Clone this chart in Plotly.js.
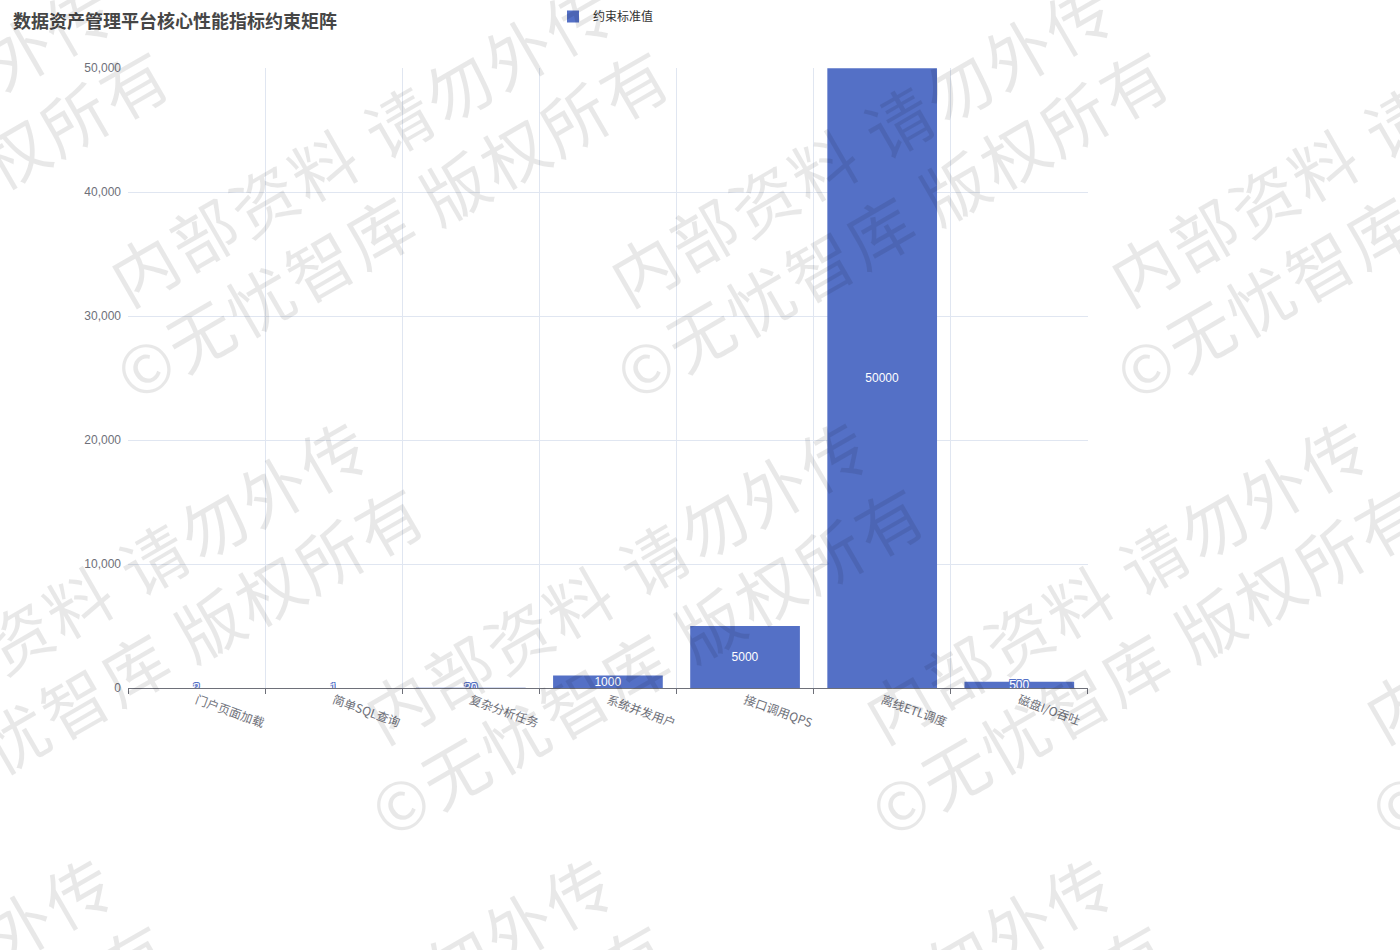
<!DOCTYPE html>
<html>
<head>
<meta charset="utf-8">
<script src="https://cdn.plot.ly/plotly-3.0.1.min.js"></script>
<style>
  html, body { margin: 0; padding: 0; background: #ffffff; }
  #wrap { position: relative; width: 1400px; height: 950px; overflow: hidden; }
  #myChart { position: absolute; left: 0; top: 0; width: 1400px; height: 950px; }
  #mark { position: absolute; left: 0; top: 0; width: 1400px; height: 950px; pointer-events: none; overflow: hidden; z-index: 10; }
  .wm { position: absolute; white-space: nowrap; font-family: "Noto Sans CJK SC", sans-serif; color: rgba(0,0,0,0.09);
        transform-origin: 0 50%; transform: rotate(-30deg); letter-spacing: 3px; }
</style>
</head>
<body>
<div id="wrap">
  <div id="myChart"></div>
  <div id="mark"></div>
</div>
<script>
const categories = ['门户页面加载', '简单SQL查询', '复杂分析任务', '系统并发用户', '接口调用QPS', '离线ETL调度', '磁盘I/O吞吐'];
const limitValues = [2, 1, 30, 1000, 5000, 50000, 500];
const seriesName = '约束标准值';
const chartTitle = '数据资产管理平台核心性能指标约束矩阵';
const markLines = ['内部资料 请勿外传', '©无忧智库 版权所有'];

const BLUE = '#5470c6';

const trace1 = {
    x: categories,
    y: limitValues,
    type: 'bar',
    name: seriesName,
    marker: { color: BLUE },
    text: limitValues.map(String),
    textposition: 'inside',
    insidetextanchor: 'middle',
    constraintext: 'none',
    textangle: 0,
    textfont: {
        family: 'Liberation Sans, Arial, sans-serif',
        size: 12,
        color: '#ffffff',
        shadow: '1px 1px 0 ' + BLUE + ', -1px -1px 0 ' + BLUE + ', 1px -1px 0 ' + BLUE + ', -1px 1px 0 ' + BLUE
    },
    hoverinfo: 'x+y'
};

const layout = {
    width: 1400,
    height: 950,
    title: {
        text: chartTitle,
        font: { family: 'Noto Sans CJK SC, sans-serif', size: 18, color: '#464646', weight: 'bold' },
        xref: 'container', yref: 'container',
        x: 13 / 1400, xanchor: 'left',
        y: 1 - 22 / 950, yanchor: 'middle'
    },
    font: { family: 'Noto Sans CJK SC, Liberation Sans, sans-serif', size: 12, color: '#6e7079' },
    xaxis: {
        type: 'category',
        tickson: 'boundaries',
        ticks: 'outside',
        ticklen: 5,
        tickcolor: '#6e7079',
        showline: true,
        linecolor: '#6e7079',
        linewidth: 1,
        showgrid: true,
        gridcolor: '#e0e6f1',
        tickangle: 20,
        tickfont: { size: 12, color: '#6e7079' },
        range: [-0.5, 6.501],
        fixedrange: true
    },
    yaxis: {
        range: [0, 50020],
        dtick: 10000,
        tickformat: ',d',
        showgrid: true,
        gridcolor: '#e0e6f1',
        zeroline: false,
        showline: false,
        ticks: '',
        ticklabelstandoff: 6,
        tickfont: { family: 'Liberation Sans, Arial, sans-serif', size: 12, color: '#6e7079' },
        fixedrange: true
    },
    bargap: 0.2,
    showlegend: true,
    legend: {
        orientation: 'h',
        xref: 'container', yref: 'container',
        x: 553 / 1400, xanchor: 'left',
        y: 1 - 2 / 950, yanchor: 'top',
        font: { size: 12, color: '#333333' },
        bgcolor: 'rgba(0,0,0,0)'
    },
    paper_bgcolor: '#ffffff',
    plot_bgcolor: '#ffffff',
    margin: { t: 68, b: 262, l: 128, r: 312, autoexpand: false },
    hovermode: 'closest'
};

Plotly.newPlot('myChart', [trace1], layout, { displayModeBar: false, staticPlot: true });

// watermark tiles, drawn over the chart like the reference
(function () {
    const mark = document.getElementById('mark');
    const F = 66;
    const c = Math.cos(Math.PI / 6), s = Math.sin(Math.PI / 6);
    function put(txt, sx, sy) {
        const d = document.createElement('div');
        d.className = 'wm';
        d.textContent = txt;
        d.style.fontSize = F + 'px';
        d.style.lineHeight = F + 'px';
        d.style.height = F + 'px';
        d.style.left = sx + 'px';
        d.style.top = (sy - F / 2) + 'px';
        mark.appendChild(d);
    }
    for (let r = -1; r <= 3; r++) {
        const even = Math.abs(r % 2) === 0;
        const cy = 266 + r * 437;
        const x0 = even ? 143 : 398;
        for (let k = -2; k <= 3; k++) {
            const cx = x0 + k * 500;
            const sx = cx - c * F / 2, sy = cy + s * F / 2;
            put(markLines[0], sx, sy);
            put(markLines[1], sx + s * 86 - c * 43, sy + c * 86 + s * 43);
        }
    }
})();
</script>
</body>
</html>
